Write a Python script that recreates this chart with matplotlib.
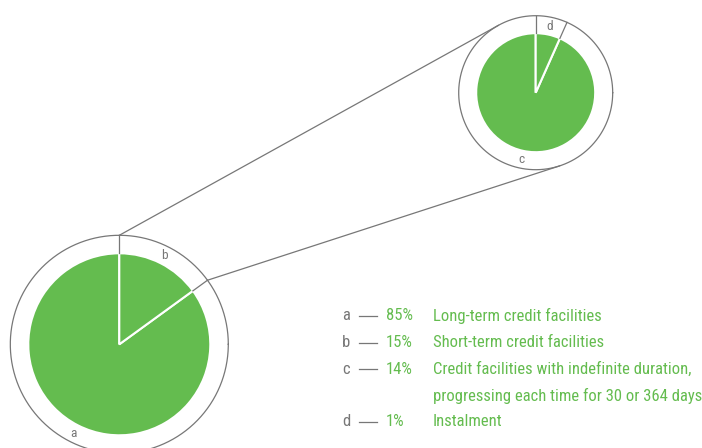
import numpy as np
import matplotlib
matplotlib.use('Agg')
import matplotlib.pyplot as plt
from matplotlib import font_manager

# data
outer_labels = ['a', 'b']
outer_values = [85, 15]
inner_labels = ['c', 'd']
inner_values = [14, 1]
legend_letters = ['a', 'b', 'c', 'd']
legend_pct = ['85%', '15%', '14%', '1%']
legend_desc = ['Long-term credit facilities',
               'Short-term credit facilities',
               'Credit facilities with indefinite duration,\nprogressing each time for 30 or 364 days',
               'Instalment']

GREEN = '#64bc4f'
GRAY = '#777777'

# pick the narrowest face we can find
names = {f.name: f.stretch for f in font_manager.fontManager.ttflist}
narrow = None
for cand in ['Liberation Sans Narrow', 'Roboto Condensed', 'Open Sans Condensed',
             'Noto Sans Condensed', 'Noto Sans Display Condensed']:
    if cand in names:
        narrow = cand
        break
if narrow is None:
    for n in sorted(names):
        if 'Narrow' in n or 'Condensed' in n:
            narrow = n
            break
if narrow:
    FONT, STRETCH = [narrow, 'DejaVu Sans'], 'normal'
else:
    FONT, STRETCH = ['DejaVu Sans'], 'condensed'

W, H = 702, 448
fig = plt.figure(figsize=(W / 100, H / 100), dpi=100)
ax = fig.add_axes([0, 0, 1, 1])

big_c, big_r, big_ring = (119.3, 103.7), 91, 109
small_c, small_r, small_ring = (535.7, 355.3), 59.5, 77

pie_texts = []


def draw_pie(values, labels, center, r, ring, lab_r):
    ax.pie(values, colors=[GREEN] * len(values), startangle=90, counterclock=True,
           radius=r, center=center, frame=True,
           wedgeprops=dict(edgecolor='white', linewidth=1.5))
    t = np.linspace(0, 2 * np.pi, 400)
    ax.plot(center[0] + ring * np.cos(t), center[1] + ring * np.sin(t), color=GRAY, lw=0.9)
    cum = np.concatenate([[0], np.cumsum(values)]) / float(sum(values))
    bounds = np.radians(90 + 360 * cum[:-1])
    for a in bounds:
        ax.plot([center[0] + r * np.cos(a), center[0] + ring * np.cos(a)],
                [center[1] + r * np.sin(a), center[1] + ring * np.sin(a)], color=GRAY, lw=0.9)
    mids = np.radians(90 + 360 * (cum[:-1] + cum[1:]) / 2)
    for lab, a in zip(labels, mids):
        pie_texts.append(ax.text(center[0] + lab_r * np.cos(a), center[1] + lab_r * np.sin(a), lab,
                                 ha='center', va='center', color=GRAY, fontsize=10, family=FONT,
                                 fontstretch=STRETCH))
    return bounds


def tangent_point(p, c, rad, side):
    d = np.array(c) - np.array(p)
    dist = np.hypot(*d)
    base = np.arctan2(d[1], d[0])
    off = np.arcsin(rad / dist)
    ang = base + side * off
    L = np.sqrt(dist ** 2 - rad ** 2)
    return p[0] + L * np.cos(ang), p[1] + L * np.sin(ang)


bb = draw_pie(outer_values, outer_labels, big_c, big_r, big_ring, 100)
draw_pie(inner_values, inner_labels, small_c, small_r, small_ring, 68)

# connecting lines from the b slice to the small ring
p1 = (big_c[0] + big_ring * np.cos(bb[0]), big_c[1] + big_ring * np.sin(bb[0]))
p2 = (big_c[0] + big_ring * np.cos(bb[1]), big_c[1] + big_ring * np.sin(bb[1]))
t1 = tangent_point(p1, small_c, small_ring, 1)
t2 = tangent_point(p2, small_c, small_ring, -1)
ax.plot([p1[0], t1[0]], [p1[1], t1[1]], color=GRAY, lw=0.9)
ax.plot([p2[0], t2[0]], [p2[1], t2[1]], color=GRAY, lw=0.9)

# legend
kw = dict(va='center', fontsize=12.5, family=FONT, fontstretch=STRETCH)
leg_texts = []
y = H - 316
for let, pct, desc in zip(legend_letters, legend_pct, legend_desc):
    leg_texts.append(ax.text(346, y, let, ha='center', color=GRAY, **kw))
    ax.plot([359, 377], [y, y], color=GRAY, lw=0.9)
    leg_texts.append(ax.text(386, y, pct, ha='left', color=GREEN, **kw))
    leg_texts.append(ax.text(433, y, desc.split('\n')[0], ha='left', color=GREEN, **kw))
    for extra in desc.split('\n')[1:]:
        y -= 26.5
        leg_texts.append(ax.text(433, y, extra, ha='left', color=GREEN, **kw))
    y -= 26.5

ax.set_xlim(0, W)
ax.set_ylim(0, H)
ax.set_aspect('equal')
ax.axis('off')

# size the legend so the first description is as wide as in the original (~170 px)
fig.canvas.draw()
w = leg_texts[2].get_window_extent().width
scale = min(1.0, 170.0 / w)
for t in leg_texts:
    t.set_fontsize(12.5 * scale)
for t in pie_texts:
    t.set_fontsize(10 * max(scale, 0.9))

fig.savefig('out.png', dpi=100)
